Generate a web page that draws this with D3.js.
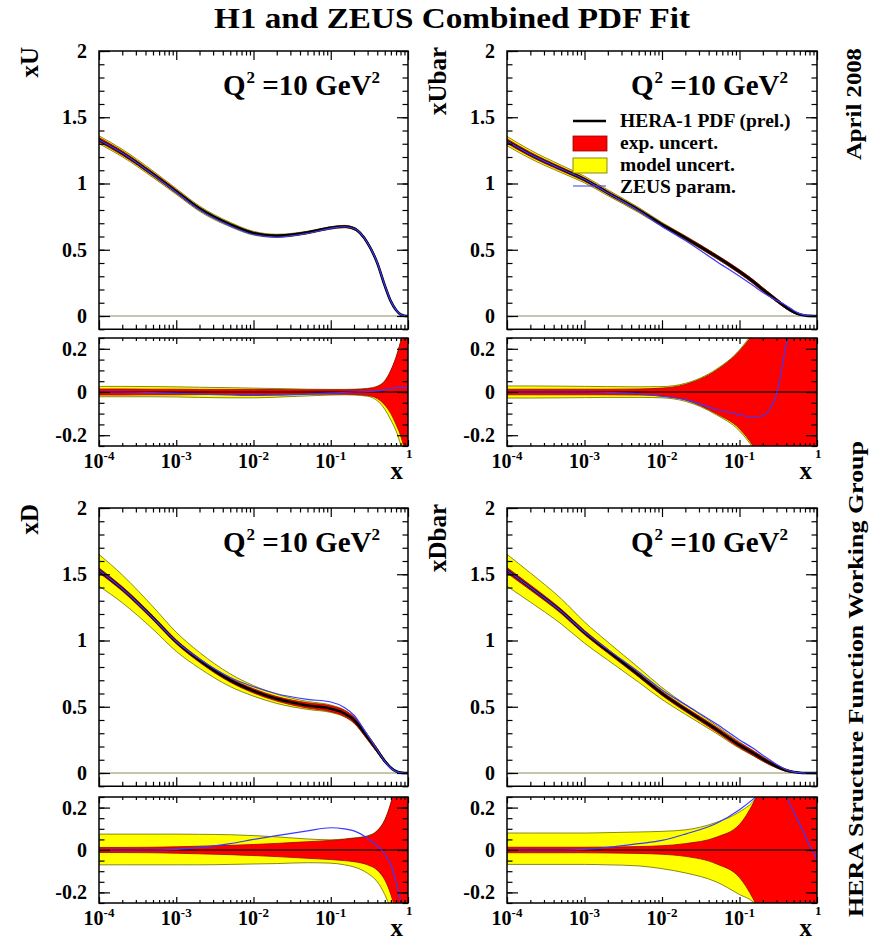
<!DOCTYPE html>
<html><head><meta charset="utf-8">
<script src="https://cdn.jsdelivr.net/npm/d3@7"></script>
<style>
body{margin:0;background:#fff}
svg text{font-family:"Liberation Serif","Times New Roman",serif;font-weight:bold;fill:#000}
</style>
</head><body>
<svg id="c" width="872" height="943"></svg>
<script>
// ---------------- data ----------------
const xGrid = [1e-4,2e-4,5e-4,1e-3,2e-3,5e-3,1e-2,2e-2,5e-2,0.1,0.15,0.2,0.3,0.4,0.5,0.6,0.7,0.8,0.9,0.95,1.0];

// central values at Q^2 = 10 GeV^2
const xU    = [1.33,1.23,1.07,0.94,0.81,0.69,0.625,0.605,0.63,0.665,0.675,0.66,0.55,0.40,0.23,0.11,0.045,0.012,0.002,0.0,0.0];
const xUbar = [1.32,1.22,1.11,1.03,0.93,0.80,0.69,0.59,0.45,0.335,0.26,0.20,0.12,0.065,0.03,0.012,0.004,0.001,0,0,0];
const xD    = [1.53,1.39,1.17,0.99,0.85,0.70,0.62,0.56,0.51,0.485,0.45,0.40,0.27,0.17,0.09,0.04,0.013,0.003,0,0,0];
const xDbar = [1.53,1.40,1.22,1.06,0.92,0.74,0.60,0.48,0.33,0.21,0.15,0.105,0.05,0.02,0.007,0.002,0,0,0,0,0];

// absolute half-widths of the bands in the upper panels: exp. (red) and exp.+model (yellow)
const xUExpAbs    = [0.017,0.016,0.014,0.013,0.011,0.009,0.008,0.007,0.007,0.007,0.007,0.007,0.008,0.008,0.008,0.007,0.005,0.003,0.001,0,0];
const xUTotAbs    = [0.03,0.028,0.025,0.022,0.02,0.017,0.014,0.012,0.01,0.009,0.009,0.009,0.009,0.009,0.008,0.007,0.005,0.003,0.001,0,0];
const xUbarExpAbs = [0.017,0.016,0.014,0.013,0.012,0.011,0.011,0.012,0.013,0.014,0.014,0.014,0.012,0.01,0.007,0.004,0.002,0.001,0,0,0];
const xUbarTotAbs = [0.035,0.032,0.028,0.025,0.022,0.019,0.016,0.015,0.014,0.014,0.014,0.014,0.012,0.01,0.007,0.004,0.002,0.001,0,0,0];
const xDExpAbs    = [0.018,0.017,0.016,0.015,0.015,0.015,0.016,0.017,0.02,0.022,0.022,0.022,0.019,0.015,0.01,0.005,0.002,0.001,0,0,0];
const xDTotAbs    = [0.12,0.105,0.085,0.072,0.06,0.048,0.04,0.035,0.03,0.028,0.026,0.024,0.02,0.015,0.01,0.005,0.002,0.001,0,0,0];
const xDbarExpAbs = [0.02,0.019,0.017,0.016,0.015,0.015,0.015,0.016,0.018,0.018,0.017,0.015,0.011,0.008,0.004,0.002,0.001,0,0,0,0];
const xDbarTotAbs = [0.12,0.11,0.095,0.08,0.068,0.055,0.045,0.037,0.03,0.024,0.02,0.017,0.012,0.008,0.004,0.002,0.001,0,0,0,0];

// lower panels: exp. (red), total exp.+model (yellow), ZEUS param. (blue)
const uExpUp = [0.014,0.014,0.013,0.013,0.012,0.012,0.012,0.011,0.010,0.010,0.010,0.011,0.015,0.025,0.05,0.10,0.16,0.23,0.30,0.35,0.40];
const uExpDn = [-0.014,-0.014,-0.013,-0.013,-0.012,-0.012,-0.012,-0.011,-0.010,-0.010,-0.010,-0.011,-0.016,-0.03,-0.06,-0.10,-0.15,-0.20,-0.27,-0.32,-0.40];
const uTotUp = [0.026,0.026,0.025,0.024,0.022,0.020,0.018,0.016,0.013,0.012,0.012,0.013,0.017,0.027,0.052,0.10,0.16,0.23,0.30,0.35,0.40];
const uTotDn = [-0.022,-0.022,-0.022,-0.023,-0.025,-0.027,-0.027,-0.024,-0.018,-0.014,-0.013,-0.014,-0.02,-0.04,-0.08,-0.13,-0.18,-0.24,-0.30,-0.35,-0.40];
const uZeus  = [0.0,0.0,-0.003,-0.006,-0.010,-0.014,-0.016,-0.015,-0.010,-0.005,-0.002,0.0,0.002,0.005,0.01,0.015,0.02,0.02,0.02,0.02,0.02];

const ubExpUp = [0.013,0.013,0.013,0.013,0.013,0.014,0.018,0.035,0.10,0.19,0.27,0.35,0.5,0.6,0.7,0.8,0.9,1,1,1,1];
const ubExpDn = [-0.013,-0.013,-0.013,-0.013,-0.013,-0.014,-0.019,-0.037,-0.10,-0.17,-0.25,-0.33,-0.5,-0.6,-0.7,-0.8,-0.9,-1,-1,-1,-1];
const ubTotUp = [0.028,0.028,0.027,0.026,0.025,0.024,0.025,0.040,0.105,0.195,0.28,0.36,0.5,0.6,0.7,0.8,0.9,1,1,1,1];
const ubTotDn = [-0.028,-0.028,-0.027,-0.026,-0.025,-0.025,-0.027,-0.043,-0.105,-0.18,-0.26,-0.34,-0.5,-0.6,-0.7,-0.8,-0.9,-1,-1,-1,-1];
const ubZeus  = [0,0,0,0,-0.002,-0.008,-0.02,-0.035,-0.08,-0.105,-0.118,-0.11,-0.01,0.22,0.4,0.5,0.6,0.6,0.6,0.6,0.6];

const dExpUp = [0.012,0.012,0.013,0.015,0.018,0.022,0.026,0.031,0.039,0.045,0.05,0.055,0.065,0.09,0.14,0.22,0.32,0.45,0.6,0.7,0.8];
const dExpDn = [-0.012,-0.012,-0.013,-0.015,-0.018,-0.022,-0.026,-0.031,-0.039,-0.045,-0.05,-0.055,-0.07,-0.095,-0.14,-0.21,-0.30,-0.42,-0.6,-0.7,-0.8];
const dTotUp = [0.075,0.075,0.075,0.075,0.074,0.072,0.068,0.062,0.052,0.048,0.052,0.057,0.067,0.092,0.142,0.222,0.32,0.45,0.6,0.7,0.8];
const dTotDn = [-0.07,-0.07,-0.07,-0.07,-0.07,-0.068,-0.066,-0.064,-0.06,-0.062,-0.07,-0.08,-0.11,-0.15,-0.21,-0.28,-0.35,-0.45,-0.6,-0.7,-0.8];
const dZeus  = [0,0,0,0.003,0.012,0.03,0.05,0.068,0.09,0.105,0.10,0.09,0.055,0.02,-0.02,-0.07,-0.15,-0.24,-0.35,-0.4,-0.45];

const dbExpUp = [0.013,0.013,0.013,0.013,0.014,0.016,0.02,0.03,0.06,0.12,0.22,0.32,0.5,0.6,0.7,0.8,0.9,1,1,1,1];
const dbExpDn = [-0.013,-0.013,-0.013,-0.013,-0.014,-0.016,-0.02,-0.03,-0.065,-0.13,-0.23,-0.33,-0.5,-0.6,-0.7,-0.8,-0.9,-1,-1,-1,-1];
const dbTotUp = [0.08,0.08,0.08,0.08,0.082,0.085,0.088,0.095,0.13,0.18,0.23,0.30,0.5,0.6,0.7,0.8,0.9,1,1,1,1];
const dbTotDn = [-0.068,-0.068,-0.068,-0.068,-0.07,-0.075,-0.088,-0.108,-0.15,-0.21,-0.245,-0.30,-0.5,-0.6,-0.7,-0.8,-0.9,-1,-1,-1,-1];
const dbZeus  = [0,0,0,0.003,0.012,0.03,0.045,0.075,0.125,0.19,0.24,0.28,0.31,0.25,0.18,0.12,0.07,0.02,-0.01,-0.03,-0.05];

const pdfNames = ["xU","xUbar","xD","xDbar"];
const mainTicks = [0,0.5,1,1.5,2];
const mainTickLabels = ["0","0.5","1","1.5","2"];
const ratioTicks = [-0.2,0,0.2];
const ratioTickLabels = ["-0.2","0","0.2"];
const xTicks = [1e-4,1e-3,1e-2,1e-1,1];
const xTickBase = ["10","10","10","10",""];
const xTickExp = ["-4","-3","-2","-1","1"];
const legendLabels = ["HERA-1 PDF (prel.)","exp. uncert.","model uncert.","ZEUS param."];
const titleText = "H1 and ZEUS Combined PDF Fit";
const sideTop = "April 2008";
const sideBottom = "HERA Structure Function Working Group";

// ---------------- layout ----------------
const colX = [[99,408],[507,817]];
const rowMain = [[51,329.25],[508,786.25]];
const rowRatio = [[338,446],[797,903]];
const YEL = "#ffff00", YEL_EDGE = "#6b6b00", RED = "#ff0000", RED_EDGE = "#9a0000", BLUE = "#3a3aff";

const panels = [
  {name:pdfNames[0], c:xU,    me:xUExpAbs,    mt:xUTotAbs,    eu:uExpUp,  ed:uExpDn,  tu:uTotUp,  td:uTotDn,  z:uZeus,  col:0,row:0},
  {name:pdfNames[1], c:xUbar, me:xUbarExpAbs, mt:xUbarTotAbs, eu:ubExpUp, ed:ubExpDn, tu:ubTotUp, td:ubTotDn, z:ubZeus, col:1,row:0},
  {name:pdfNames[2], c:xD,    me:xDExpAbs,    mt:xDTotAbs,    eu:dExpUp,  ed:dExpDn,  tu:dTotUp,  td:dTotDn,  z:dZeus,  col:0,row:1},
  {name:pdfNames[3], c:xDbar, me:xDbarExpAbs, mt:xDbarTotAbs, eu:dbExpUp, ed:dbExpDn, tu:dbTotUp, td:dbTotDn, z:dbZeus, col:1,row:1},
];

const svg = d3.select("#c");
const xMinor = [];
[-4,-3,-2,-1].forEach(e => { for (let m=2;m<=9;m++) xMinor.push(m*Math.pow(10,e)); });

function styleAxis(g){
  g.select(".domain").remove();
  g.selectAll(".tick line").attr("stroke","#000").attr("stroke-width",1.2);
  g.attr("font-family",null).attr("font-size",20);
}

function frameAxes(g, xs, ys, yMaj, yLab, yMin, lenY, lenX, xLabels){
  const [x0,x1] = xs.range(); const [yb,yt] = ys.range();
  g.append("g").attr("transform",`translate(${x0},0)`)
    .call(d3.axisLeft(ys).tickValues(yMaj).tickSize(-lenY).tickPadding(12).tickFormat((d,i)=>yLab[i])).call(styleAxis);
  g.append("g").attr("transform",`translate(${x0},0)`)
    .call(d3.axisLeft(ys).tickValues(yMin).tickSize(-lenY/2).tickFormat("")).call(styleAxis);
  g.append("g").attr("transform",`translate(${x1},0)`)
    .call(d3.axisRight(ys).tickValues(yMaj).tickSize(-lenY).tickFormat("")).call(styleAxis);
  g.append("g").attr("transform",`translate(${x1},0)`)
    .call(d3.axisRight(ys).tickValues(yMin).tickSize(-lenY/2).tickFormat("")).call(styleAxis);
  g.append("g").attr("transform",`translate(0,${yb})`)
    .call(d3.axisBottom(xs).tickValues(xTicks).tickSize(-lenX).tickFormat("")).call(styleAxis);
  g.append("g").attr("transform",`translate(0,${yb})`)
    .call(d3.axisBottom(xs).tickValues(xMinor).tickSize(-lenX/2).tickFormat("")).call(styleAxis);
  g.append("g").attr("transform",`translate(0,${yt})`)
    .call(d3.axisTop(xs).tickValues(xTicks).tickSize(-lenX).tickFormat("")).call(styleAxis);
  g.append("g").attr("transform",`translate(0,${yt})`)
    .call(d3.axisTop(xs).tickValues(xMinor).tickSize(-lenX/2).tickFormat("")).call(styleAxis);
  g.append("rect").attr("x",x0).attr("y",yt).attr("width",x1-x0).attr("height",yb-yt)
    .attr("fill","none").attr("stroke","#000").attr("stroke-width",1.5);
  if (xLabels){
    xTicks.forEach((v,i)=>{
      const t = g.append("text").attr("x",xs(v)).attr("y",yb+22).attr("text-anchor","middle").attr("font-size",20);
      if (xTickBase[i]){
        t.append("tspan").text(xTickBase[i]);
        t.append("tspan").attr("dy",-8).attr("font-size",13).text(xTickExp[i]);
      } else {
        t.attr("x",xs(v)-2).attr("y",yb+12).attr("text-anchor","start").attr("font-size",13).text(xTickExp[i]);
      }
    });
  }
}

panels.forEach((p,pi)=>{
  const [x0,x1] = colX[p.col];
  const xs = d3.scaleLog().domain([1e-4,1]).range([x0,x1]);
  const [mt,mb] = rowMain[p.row];
  const ysM = d3.scaleLinear().domain([-0.1,2]).range([mb,mt]);
  const [rt,rb] = rowRatio[p.row];
  const ysR = d3.scaleLinear().domain([-0.25,0.25]).range([rb,rt]);
  const idx = d3.range(xGrid.length);

  svg.append("clipPath").attr("id",`cm${pi}`).append("rect").attr("x",x0).attr("y",mt).attr("width",x1-x0).attr("height",mb-mt);
  svg.append("clipPath").attr("id",`cr${pi}`).append("rect").attr("x",x0).attr("y",rt).attr("width",x1-x0).attr("height",rb-rt);

  // ---- main panel ----
  const gm = svg.append("g");
  const pm = gm.append("g").attr("clip-path",`url(#cm${pi})`);
  const areaM = (hw) => d3.area().curve(d3.curveMonotoneX)
     .x(i=>xs(xGrid[i])).y0(i=>ysM(p.c[i]-hw[i])).y1(i=>ysM(p.c[i]+hw[i]));
  const lineM = (r) => d3.line().curve(d3.curveMonotoneX).x(i=>xs(xGrid[i])).y(i=>ysM(p.c[i]*(1+(r?r[i]:0))));
  pm.append("line").attr("x1",x0).attr("x2",x1).attr("y1",ysM(0)).attr("y2",ysM(0)).attr("stroke","#8a8a60").attr("stroke-width",1);
  pm.append("path").attr("d",areaM(p.mt)(idx)).attr("fill",YEL).attr("stroke",YEL_EDGE).attr("stroke-width",0.8);
  pm.append("path").attr("d",areaM(p.me)(idx)).attr("fill",RED).attr("stroke",RED_EDGE).attr("stroke-width",0.8);
  pm.append("path").attr("d",lineM(null)(idx)).attr("fill","none").attr("stroke","#000").attr("stroke-width",2.6);
  pm.append("path").attr("d",lineM(p.z)(idx)).attr("fill","none").attr("stroke",BLUE).attr("stroke-width",1.2);
  frameAxes(gm, xs, ysM, mainTicks, mainTickLabels, d3.range(-1,21).map(k=>k/10), 11, 9, false);

  // ---- lower panel ----
  const gr = svg.append("g");
  const pr = gr.append("g").attr("clip-path",`url(#cr${pi})`);
  const areaR = (lo,hi) => d3.area().curve(d3.curveMonotoneX)
     .x(i=>xs(xGrid[i])).y0(i=>ysR(lo[i])).y1(i=>ysR(hi[i]));
  const lineR = (r) => d3.line().curve(d3.curveMonotoneX).x(i=>xs(xGrid[i])).y(i=>ysR(r?r[i]:0));
  pr.append("path").attr("d",areaR(p.td,p.tu)(idx)).attr("fill",YEL).attr("stroke",YEL_EDGE).attr("stroke-width",0.8);
  pr.append("path").attr("d",areaR(p.ed,p.eu)(idx)).attr("fill",RED).attr("stroke",RED_EDGE).attr("stroke-width",0.8);
  pr.append("path").attr("d",lineR(null)(idx)).attr("fill","none").attr("stroke","#6a0000").attr("stroke-width",2);
  pr.append("path").attr("d",lineR(p.z)(idx)).attr("fill","none").attr("stroke",BLUE).attr("stroke-width",1.2);
  frameAxes(gr, xs, ysR, ratioTicks, ratioTickLabels, d3.range(-5,6).map(k=>k*0.05), 11, 6, true);

  gr.append("text").attr("x",x1-5).attr("y",rb+33).attr("text-anchor","end").attr("font-size",25).text("x");

  svg.append("text").attr("transform",`translate(${x0-61},${mt-4}) rotate(-90)`)
     .attr("text-anchor","end").attr("font-size",25).text(p.name);

  const q = svg.append("text").attr("x",x0+124).attr("y",mt+44).attr("font-size",29);
  q.append("tspan").text("Q");
  q.append("tspan").attr("dy",-12).attr("dx",1).attr("font-size",17).text("2");
  q.append("tspan").attr("dy",12).text(" =10 GeV");
  q.append("tspan").attr("dy",-12).attr("font-size",17).text("2");
});

// legend (top-right panel)
{
  const lx = 573, g = svg.append("g");
  g.append("line").attr("x1",lx).attr("x2",lx+33).attr("y1",121).attr("y2",121).attr("stroke","#000").attr("stroke-width",2.4);
  g.append("rect").attr("x",lx).attr("y",136).attr("width",34).attr("height",15).attr("fill",RED).attr("stroke",RED_EDGE).attr("stroke-width",0.8);
  g.append("rect").attr("x",lx).attr("y",158).attr("width",34).attr("height",15).attr("fill",YEL).attr("stroke",YEL_EDGE).attr("stroke-width",0.8);
  g.append("line").attr("x1",lx).attr("x2",lx+33).attr("y1",186).attr("y2",186).attr("stroke",BLUE).attr("stroke-width",1.2);
  const ys = [127,149,171,193];
  legendLabels.forEach((t,i)=> g.append("text").attr("x",620).attr("y",ys[i]).attr("font-size",19.5).text(t));
}

svg.append("text").attr("x",452).attr("y",28).attr("text-anchor","middle").attr("font-size",30)
   .attr("textLength",476).attr("lengthAdjust","spacingAndGlyphs").text(titleText);
svg.append("text").attr("transform","translate(861,48) rotate(-90)").attr("text-anchor","end").attr("font-size",22)
   .attr("textLength",112).attr("lengthAdjust","spacingAndGlyphs").text(sideTop);
svg.append("text").attr("transform","translate(863,917) rotate(-90)").attr("text-anchor","start").attr("font-size",22)
   .attr("textLength",476).attr("lengthAdjust","spacingAndGlyphs").text(sideBottom);
</script>
</body></html>
